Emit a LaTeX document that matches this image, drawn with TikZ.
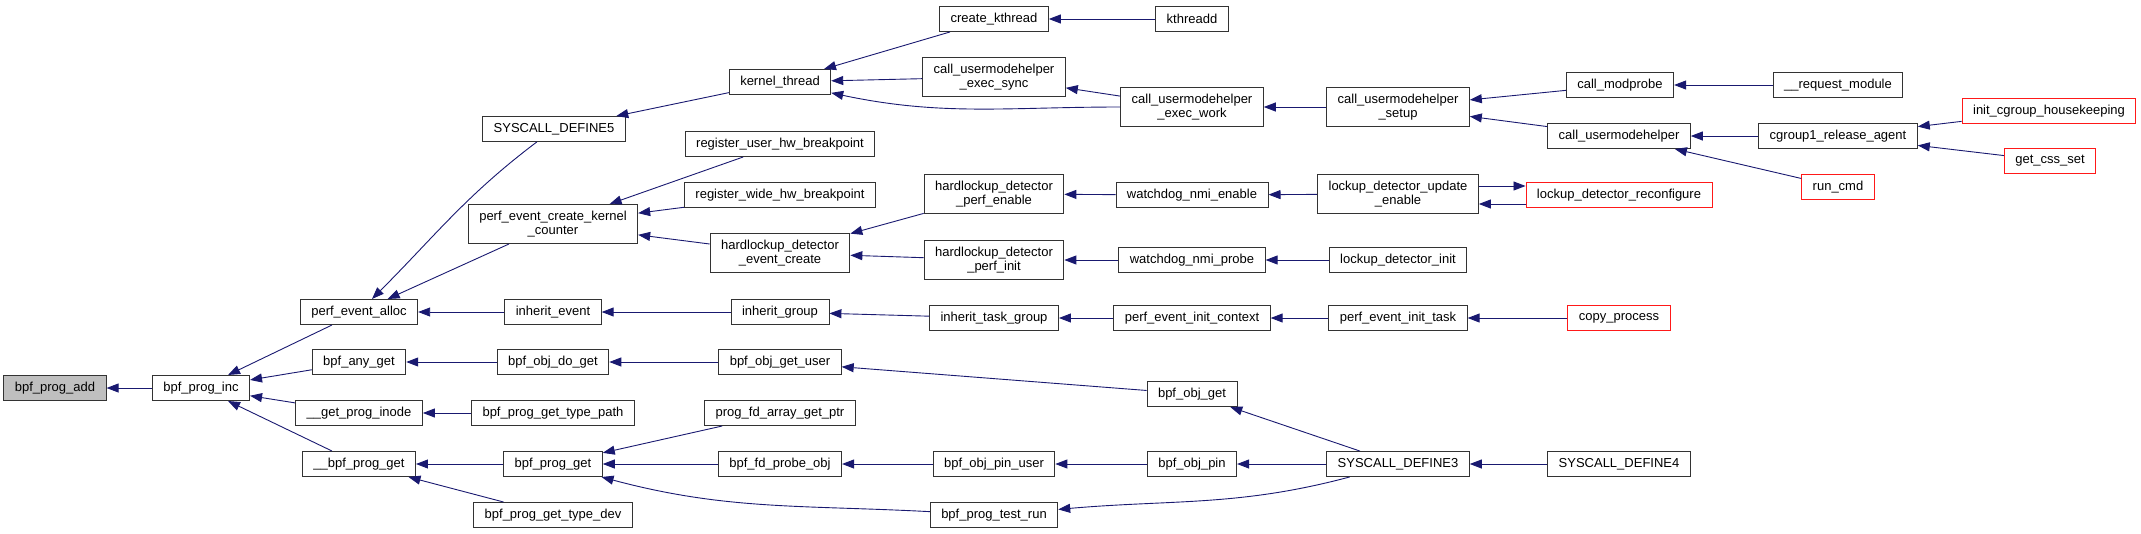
\documentclass[tikz,border=0pt]{standalone}
\usepackage{fontspec}
\setmainfont{Liberation Sans}
\usetikzlibrary{arrows.meta}
\definecolor{midnight}{RGB}{25,25,112}
\definecolor{rootgray}{RGB}{191,191,191}

\begin{document}
\begin{tikzpicture}[
  x=1pt, y=-1pt,
  font=\fontsize{13}{14}\selectfont,
  fn/.style={draw=black!80, line width=0.9pt, rectangle, minimum height=25pt, inner xsep=11pt, inner ysep=6.5pt, align=center, fill=white},
  root/.style={fn, fill=rootgray},
  trunc/.style={fn, draw=red!90},
  edge/.style={-{Triangle[length=12pt,width=9pt]}, draw=midnight, line width=0.9pt}
]
  \useasboundingbox (0,0) rectangle (2141,533);

  \node[root] (add) at (55,388) {bpf\_prog\_add};
  \node[fn] (inc) at (201,388) {bpf\_prog\_inc};

  \node[fn] (alloc) at (359,312) {perf\_event\_alloc};
  \node[fn] (anyget) at (359,362) {bpf\_any\_get};
  \node[fn] (inode) at (359,413) {\_\_get\_prog\_inode};
  \node[fn] (bpfget) at (359,464) {\_\_bpf\_prog\_get};

  \node[fn] (sys5) at (554,129) {SYSCALL\_DEFINE5};
  \node[fn] (pekc) at (553,224) {perf\_event\_create\_kernel\\\_counter};
  \node[fn] (inhev) at (553,312) {inherit\_event};
  \node[fn] (dodo) at (553,362) {bpf\_obj\_do\_get};
  \node[fn] (tpath) at (553,413) {bpf\_prog\_get\_type\_path};
  \node[fn] (progget) at (553,464) {bpf\_prog\_get};
  \node[fn] (tdev) at (553,515) {bpf\_prog\_get\_type\_dev};

  \node[fn] (kthr) at (780,82) {kernel\_thread};
  \node[fn] (ruhb) at (780,144) {register\_user\_hw\_breakpoint};
  \node[fn] (rwhb) at (780,195) {register\_wide\_hw\_breakpoint};
  \node[fn] (hdec) at (780,253) {hardlockup\_detector\\\_event\_create};
  \node[fn] (inhgr) at (780,312) {inherit\_group};
  \node[fn] (getuser) at (780,362) {bpf\_obj\_get\_user};
  \node[fn] (fdarr) at (780,413) {prog\_fd\_array\_get\_ptr};
  \node[fn] (probe) at (780,464) {bpf\_fd\_probe\_obj};

  \node[fn] (ckth) at (994,19) {create\_kthread};
  \node[fn] (sync) at (994,77) {call\_usermodehelper\\\_exec\_sync};
  \node[fn] (hdpe) at (994,194) {hardlockup\_detector\\\_perf\_enable};
  \node[fn] (hdpi) at (994,260) {hardlockup\_detector\\\_perf\_init};
  \node[fn] (itg) at (994,318) {inherit\_task\_group};
  \node[fn] (pinuser) at (994,464) {bpf\_obj\_pin\_user};
  \node[fn] (testrun) at (994,515) {bpf\_prog\_test\_run};

  \node[fn] (kthreadd) at (1192,19) {kthreadd};
  \node[fn] (work) at (1192,107) {call\_usermodehelper\\\_exec\_work};
  \node[fn] (wne) at (1192,195) {watchdog\_nmi\_enable};
  \node[fn] (wnp) at (1192,260) {watchdog\_nmi\_probe};
  \node[fn] (peic) at (1192,318) {perf\_event\_init\_context};
  \node[fn] (objget) at (1192,394) {bpf\_obj\_get};
  \node[fn] (objpin) at (1192,464) {bpf\_obj\_pin};

  \node[fn] (setup) at (1398,107) {call\_usermodehelper\\\_setup};
  \node[fn] (lde) at (1398,194) {lockup\_detector\_update\\\_enable};
  \node[fn] (ldi) at (1398,260) {lockup\_detector\_init};
  \node[fn] (peit) at (1398,318) {perf\_event\_init\_task};
  \node[fn] (sys3) at (1398,464) {SYSCALL\_DEFINE3};

  \node[fn] (modprobe) at (1620,85) {call\_modprobe};
  \node[fn] (cuh) at (1619,136) {call\_usermodehelper};
  \node[trunc] (ldr) at (1619,195) {lockup\_detector\_reconfigure};
  \node[trunc] (copy) at (1619,318) {copy\_process};
  \node[fn] (sys4) at (1619,464) {SYSCALL\_DEFINE4};

  \node[fn] (reqmod) at (1838,85) {\_\_request\_module};
  \node[fn] (cgrel) at (1838,136) {cgroup1\_release\_agent};
  \node[trunc] (runcmd) at (1838,187) {run\_cmd};

  \node[trunc] (icg) at (2049,111) {init\_cgroup\_housekeeping};
  \node[trunc] (css) at (2050,161) {get\_css\_set};

  \draw[edge] (inc) -- (add);
  \draw[edge] (alloc) -- (inc);
  \draw[edge] (anyget) -- (inc);
  \draw[edge] (inode) -- (inc);
  \draw[edge] (bpfget) -- (inc);
  \draw[edge] (sys5) to[out=-143,in=45] (alloc);
  \draw[edge] (pekc) -- (alloc);
  \draw[edge] (inhev) -- (alloc);
  \draw[edge] (dodo) -- (anyget);
  \draw[edge] (tpath) -- (inode);
  \draw[edge] (progget) -- (bpfget);
  \draw[edge] (tdev) -- (bpfget);
  \draw[edge] (kthr) -- (sys5);
  \draw[edge] (ruhb) -- (pekc);
  \draw[edge] (rwhb) -- (pekc);
  \draw[edge] (hdec) -- (pekc);
  \draw[edge] (inhgr) -- (inhev);
  \draw[edge] (getuser) -- (dodo);
  \draw[edge] (fdarr) -- (progget);
  \draw[edge] (probe) -- (progget);
  \draw[edge] (testrun) to[out=177,in=-15] (progget);
  \draw[edge] (ckth) -- (kthr);
  \draw[edge] (sync) -- (kthr);
  \draw[edge] (work) to[out=180,in=-12] (kthr);
  \draw[edge] (hdpe) -- (hdec);
  \draw[edge] (hdpi) -- (hdec);
  \draw[edge] (itg) -- (inhgr);
  \draw[edge] (objget) -- (getuser);
  \draw[edge] (pinuser) -- (probe);
  \draw[edge] (kthreadd) -- (ckth);
  \draw[edge] (work) -- (sync);
  \draw[edge] (wne) -- (hdpe);
  \draw[edge] (wnp) -- (hdpi);
  \draw[edge] (peic) -- (itg);
  \draw[edge] (sys3) -- (objget);
  \draw[edge] (objpin) -- (pinuser);
  \draw[edge] (sys3) -- (objpin);
  \draw[edge] (sys3) to[out=-165,in=5] (testrun);
  \draw[edge] (setup) -- (work);
  \draw[edge] (lde) -- (wne);
  \draw[edge] (ldi) -- (wnp);
  \draw[edge] (peit) -- (peic);
  \draw[edge] (modprobe) -- (setup);
  \draw[edge] (cuh) -- (setup);
  \draw[edge] ([yshift=8pt]lde.east) -- ([yshift=8pt]lde.east -| ldr.west);
  \draw[edge] ([yshift=-9pt]ldr.west) -- ([yshift=-9pt]ldr.west -| lde.east);
  \draw[edge] (copy) -- (peit);
  \draw[edge] (sys4) -- (sys3);
  \draw[edge] (reqmod) -- (modprobe);
  \draw[edge] (cgrel) -- (cuh);
  \draw[edge] (runcmd) -- (cuh);
  \draw[edge] (icg) -- (cgrel);
  \draw[edge] (css) -- (cgrel);
\end{tikzpicture}
\end{document}
